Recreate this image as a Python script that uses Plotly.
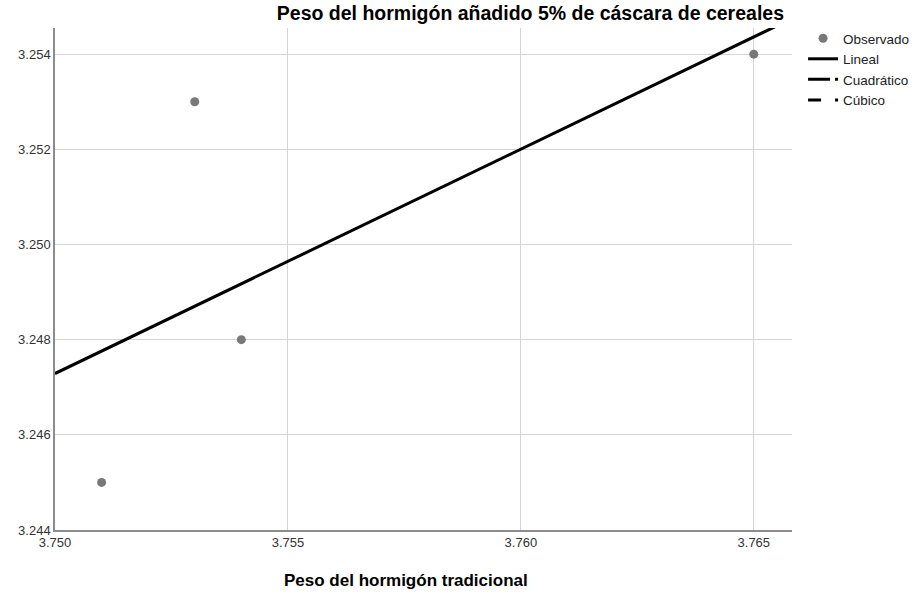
import plotly.graph_objects as go
import numpy as np

# Observed pairs: traditional concrete weight vs. concrete with 5% cereal husk
peso_tradicional = [3.751, 3.753, 3.754, 3.765]
peso_cascara = [3.245, 3.253, 3.248, 3.254]

x_ticks = [3.750, 3.755, 3.760, 3.765]
y_ticks = [3.244, 3.246, 3.248, 3.250, 3.252, 3.254]

x_range = [3.750, 3.76582]
y_range = [3.244, 3.25455]

# Least-squares linear fit
b1, b0 = np.polyfit(peso_tradicional, peso_cascara, 1)
x_fit = np.array(x_range)
y_fit = b0 + b1 * x_fit

FONT = "Liberation Sans, Arial, sans-serif"

fig = go.Figure()

fig.add_trace(go.Scatter(
    x=peso_tradicional, y=peso_cascara, mode="markers", name="Observado",
    marker=dict(color="#787878", size=9, line=dict(width=0)),
))
fig.add_trace(go.Scatter(
    x=x_fit, y=y_fit, mode="lines", name="Lineal",
    line=dict(color="black", width=3),
))
# Quadratic and cubic models appear in the legend only
fig.add_trace(go.Scatter(
    x=[None], y=[None], mode="lines", name="Cuadrático",
    line=dict(color="black", width=3, dash="22px,5px,3px,10px"),
))
fig.add_trace(go.Scatter(
    x=[None], y=[None], mode="lines", name="Cúbico",
    line=dict(color="black", width=3, dash="13px,14px,3px,10px"),
))

fig.update_layout(
    width=923, height=595,
    margin=dict(l=55, r=131, t=28, b=65, autoexpand=False),
    paper_bgcolor="white", plot_bgcolor="white",
    font=dict(family=FONT, size=13, color="#333333"),
    showlegend=True,
    legend=dict(
        x=1.015, y=1.01, xanchor="left", yanchor="top",
        font=dict(size=13.5, color="#222222"),
        bgcolor="rgba(0,0,0,0)", tracegroupgap=0,
        itemwidth=30,
    ),
    title=dict(
        text="<b>Peso del hormigón añadido 5% de cáscara de cereales</b>",
        x=784 / 923, xanchor="right", xref="container",
        y=1 - 13 / 595, yanchor="middle", yref="container",
        font=dict(family=FONT, size=19.5, color="black"),
    ),
    annotations=[dict(
        text="<b>Peso del hormigón tradicional</b>",
        xref="paper", yref="paper", x=(406 - 55) / 737, y=-50 / 502,
        xanchor="center", yanchor="middle", showarrow=False,
        font=dict(family=FONT, size=17, color="black"),
    )],
)

fig.update_xaxes(
    range=x_range, tickvals=x_ticks,
    ticktext=[f"{v:.3f}" for v in x_ticks],
    showgrid=True, gridcolor="#d4d4d4", gridwidth=1,
    showline=True, linecolor="#8c8c8c", linewidth=1.5,
    zeroline=False, ticks="", tickfont=dict(size=13, color="#333333"),
)
fig.update_yaxes(
    range=y_range, tickvals=y_ticks,
    ticktext=[f"{v:.3f}" for v in y_ticks],
    showgrid=True, gridcolor="#d4d4d4", gridwidth=1,
    showline=True, linecolor="#8c8c8c", linewidth=1.5,
    zeroline=False, ticks="", tickfont=dict(size=13, color="#333333"),
)

fig.write_html("out.html")
